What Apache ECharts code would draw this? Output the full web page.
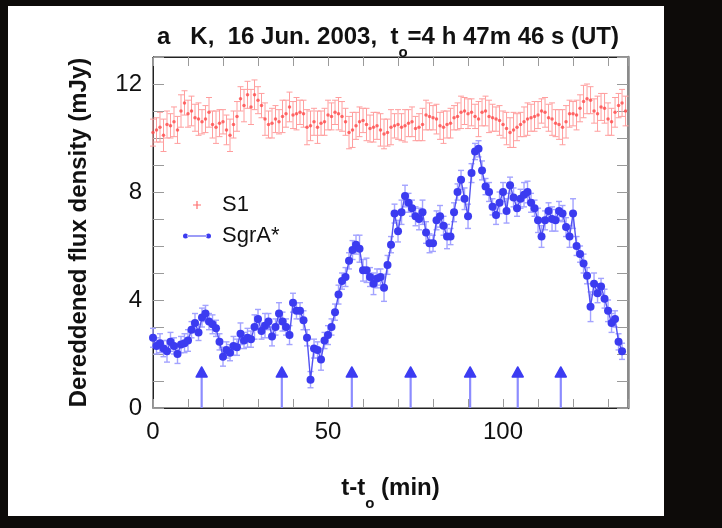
<!DOCTYPE html>
<html>
<head>
<meta charset="utf-8">
<script src="https://cdn.jsdelivr.net/npm/echarts@6/dist/echarts.min.js"></script>
<style>
  html, body { margin: 0; padding: 0; width: 722px; height: 528px; overflow: hidden; background: #0d0b09; }
  #chart { position: absolute; left: 8px; top: 6px; width: 656px; height: 510px; background: #ffffff; }
</style>
</head>
<body>
<div id="chart"></div>
<script>
// Sampling step of both light curves, minutes after t0
const SAMPLE_STEP_MIN = 1;

// SgrA* dereddened K-band flux density (mJy), one value per minute from t0
const sgrFlux = [
  2.6, 2.3, 2.4, 2.2, 2.1, 2.45, 2.3, 2.0, 2.35, 2.4,
  2.5, 2.9, 3.15, 2.8, 3.35, 3.5, 3.2, 3.1, 2.95, 2.45,
  1.9, 2.15, 2.05, 2.3, 2.25, 2.75, 2.5, 2.6, 2.55, 3.0,
  3.3, 2.85, 3.05, 3.2, 2.65, 3.0, 3.5, 3.2, 3.0, 2.7,
  3.9, 3.6, 3.6, 3.25, 2.6, 1.05, 2.2, 2.15, 1.8, 2.5,
  2.7, 3.0, 3.55, 4.2, 4.7, 4.85, 5.45, 5.85, 6.05, 5.9,
  5.1, 5.1, 4.85, 4.6, 4.8, 4.85, 4.45, 5.3, 6.05, 7.2,
  6.55, 7.25, 7.85, 7.6, 7.4, 7.1, 7.0, 7.25, 6.5, 6.1,
  6.1, 6.95, 7.1, 6.75, 6.35, 6.35, 7.25, 8.0, 8.45, 7.75,
  7.1, 8.7, 9.5, 9.6, 8.8, 8.2, 8.0, 7.45, 7.15, 7.6,
  8.0, 7.3, 8.25, 7.8, 7.4, 7.75, 7.9, 8.0, 7.6, 7.4,
  6.95, 6.35, 6.95, 7.3, 7.0, 6.95, 7.3, 7.2, 6.7, 6.35,
  7.2, 6.0, 5.7, 5.35, 4.9, 3.75, 4.6, 4.25, 4.5, 4.05,
  3.6, 3.15, 3.3, 2.45, 2.1
];
// 1-sigma uncertainties of the SgrA* points (mJy)
const sgrErr = [
  0.35, 0.3, 0.35, 0.3, 0.4, 0.35, 0.3, 0.35, 0.3, 0.35,
  0.4, 0.3, 0.35, 0.3, 0.35, 0.3, 0.3, 0.35, 0.3, 0.3,
  0.35, 0.3, 0.3, 0.35, 0.3, 0.4, 0.3, 0.35, 0.3, 0.45,
  0.35, 0.3, 0.45, 0.3, 0.35, 0.3, 0.4, 0.35, 0.3, 0.35,
  0.35, 0.3, 0.3, 0.35, 0.3, 0.3, 0.35, 0.3, 0.4, 0.3,
  0.35, 0.3, 0.3, 0.35, 0.3, 0.35, 0.3, 0.35, 0.35, 0.5,
  0.4, 0.45, 0.35, 0.4, 0.35, 0.3, 0.5, 0.35, 0.3, 0.35,
  0.4, 0.45, 0.4, 0.35, 0.3, 0.35, 0.4, 0.45, 0.4, 0.35,
  0.3, 0.35, 0.4, 0.35, 0.45, 0.3, 0.35, 0.3, 0.35, 0.4,
  0.45, 0.35, 0.3, 0.3, 0.35, 0.3, 0.35, 0.3, 0.35, 0.4,
  0.35, 0.45, 0.3, 0.35, 0.3, 0.35, 0.45, 0.4, 0.35, 0.3,
  0.45, 0.4, 0.35, 0.3, 0.45, 0.4, 0.35, 0.3, 0.35, 0.4,
  0.55, 0.35, 0.3, 0.35, 0.3, 0.55, 0.4, 0.35, 0.3, 0.35,
  0.4, 0.35, 0.3, 0.3, 0.3
];

// Comparison star S1 flux density (mJy), one value per minute from t0
const s1Flux = [
  10.2, 10.3, 10.4, 10.1, 10.5, 10.45, 10.6, 10.3, 11.0, 11.3,
  10.9, 11.0, 10.75, 10.7, 10.6, 10.7, 10.95, 10.5, 10.4, 10.55,
  10.6, 10.3, 10.1, 10.5, 10.8, 11.45, 11.2, 11.6, 11.15, 11.6,
  11.4, 11.2, 10.7, 10.5, 10.55, 10.7, 10.6, 10.8, 10.9, 11.15,
  10.85, 10.9, 10.95, 10.9, 10.4, 10.45, 10.6, 10.4, 10.55, 10.6,
  10.85, 10.8, 10.95, 10.9, 10.8, 10.6, 10.2, 10.3, 10.45, 10.6,
  10.65, 10.5, 10.35, 10.4, 10.45, 10.3, 10.15, 10.2, 10.4, 10.45,
  10.5, 10.4, 10.45, 10.55, 10.6, 10.35, 10.4, 10.5, 10.85, 10.8,
  10.75, 10.7, 10.45, 10.4, 10.5, 10.55, 10.75, 10.8, 10.95, 11.0,
  10.9, 10.95, 10.8, 10.7, 10.95, 11.0, 10.8, 10.75, 10.7, 10.65,
  10.5, 10.35, 10.2, 10.3, 10.4, 10.5, 10.6, 10.7, 10.75, 10.8,
  10.85, 11.0, 10.95, 10.75, 10.7, 10.55, 10.5, 10.4, 10.6, 10.9,
  10.9, 10.85, 11.1, 11.35, 11.45, 11.4, 11.0, 10.9, 11.15, 11.1,
  10.7, 10.6, 10.95, 11.2, 11.3, 11.0
];
// 1-sigma uncertainties of the S1 points (mJy)
const s1Err = [
  0.5, 0.45, 0.55, 0.6, 0.5, 0.45, 0.55, 0.5, 0.6, 0.45,
  0.5, 0.55, 0.5, 0.6, 0.45, 0.5, 0.55, 0.5, 0.6, 0.5,
  0.45, 0.55, 0.6, 0.5, 0.55, 0.45, 0.6, 0.5, 0.65, 0.55,
  0.5, 0.45, 0.6, 0.5, 0.55, 0.5, 0.45, 0.6, 0.5, 0.55,
  0.5, 0.6, 0.45, 0.5, 0.65, 0.55, 0.5, 0.6, 0.45, 0.5,
  0.55, 0.5, 0.45, 0.6, 0.55, 0.5, 0.6, 0.65, 0.5, 0.55,
  0.45, 0.6, 0.5, 0.55, 0.5, 0.6, 0.55, 0.5, 0.65, 0.45,
  0.55, 0.5, 0.6, 0.5, 0.55, 0.45, 0.5, 0.6, 0.55, 0.5,
  0.45, 0.55, 0.5, 0.6, 0.5, 0.55, 0.45, 0.5, 0.6, 0.5,
  0.55, 0.5, 0.45, 0.65, 0.5, 0.55, 0.6, 0.5, 0.45, 0.55,
  0.5, 0.6, 0.55, 0.65, 0.5, 0.45, 0.55, 0.6, 0.5, 0.55,
  0.5, 0.45, 0.55, 0.5, 0.6, 0.5, 0.55, 0.65, 0.6, 0.5,
  0.45, 0.55, 0.5, 0.6, 0.55, 0.5, 0.45, 0.65, 0.5, 0.55,
  0.6, 0.5, 0.55, 0.45, 0.5, 0.55
];

// Times (min after t0) of the sub-flare peaks marked with arrows
const flareTimes = [13.9, 36.8, 56.8, 73.6, 90.6, 104.2, 116.5];

// Axis ranges and ticks
const X_MIN = 0, X_MAX = 135.7, X_TICK = 10, X_LABEL_EVERY = 50;
const Y_MIN = 0, Y_MAX = 13, Y_TICK = 1, Y_LABEL_EVERY = 4;

const FONT = '"Liberation Sans", Arial, Helvetica, sans-serif';
const INK = '#111111';

const s1Points = s1Flux.map((v, i) => [i * SAMPLE_STEP_MIN, v]);
const s1Bars = s1Flux.map((v, i) => [i * SAMPLE_STEP_MIN, v - s1Err[i], v + s1Err[i]]);
const sgrPoints = sgrFlux.map((v, i) => [i * SAMPLE_STEP_MIN, v]);
const sgrBars = sgrFlux.map((v, i) => [i * SAMPLE_STEP_MIN, v - sgrErr[i], v + sgrErr[i]]);

// Vertical error bar with short caps
function errorBars(color, capHalf, width) {
  return function (params, api) {
    const x = api.value(0);
    const lo = api.coord([x, api.value(1)]);
    const hi = api.coord([x, api.value(2)]);
    const style = { stroke: color, lineWidth: width };
    return {
      type: 'group',
      children: [
        { type: 'line', shape: { x1: lo[0], y1: lo[1], x2: hi[0], y2: hi[1] }, style },
        { type: 'line', shape: { x1: lo[0] - capHalf, y1: lo[1], x2: lo[0] + capHalf, y2: lo[1] }, style },
        { type: 'line', shape: { x1: hi[0] - capHalf, y1: hi[1], x2: hi[0] + capHalf, y2: hi[1] }, style }
      ]
    };
  };
}

// Upward arrow standing on the time axis
const ARROW_TOP = 1.52;   // tip height, mJy
const HEAD_LEN = 10, HEAD_HALF = 5.5, SHAFT_W = 2.2;
function flareArrow(params, api) {
  const t = api.value(0);
  const base = api.coord([t, Y_MIN]);
  const tip = api.coord([t, ARROW_TOP]);
  const neckY = tip[1] + HEAD_LEN;
  return {
    type: 'group',
    children: [
      { type: 'rect', shape: { x: base[0] - SHAFT_W / 2, y: neckY, width: SHAFT_W, height: base[1] - neckY },
        style: { fill: '#8c8cff' } },
      { type: 'polygon', shape: { points: [[tip[0], tip[1]], [tip[0] + HEAD_HALF, neckY], [tip[0] - HEAD_HALF, neckY]] },
        style: { fill: '#3c3cf2', stroke: '#3c3cf2', lineWidth: 1.5, lineJoin: 'round' } }
    ]
  };
}

const subRich = () => ({
  m: { fontSize: 24, fontWeight: 'bold', fontFamily: FONT, color: INK, verticalAlign: 'middle' },
  s: { fontSize: 15, fontWeight: 'bold', fontFamily: FONT, color: INK, verticalAlign: 'middle', padding: [30, 0, 0, 0] }
});

const ticks = (len) => ({ show: true, inside: true, length: len, lineStyle: { color: '#9a9a9a', width: 1 } });
const frame = (color, width) => ({ show: true, onZero: false, lineStyle: { color: color, width: width } });

const chart = echarts.init(document.getElementById('chart'), null, { renderer: 'canvas' });
chart.setOption({
  animation: false,
  backgroundColor: '#ffffff',
  textStyle: { fontFamily: FONT },
  title: {
    text: '{m|a   K,  16 Jun. 2003,  t}{s|o}{m|=4 h 47m 46 s (UT)}',
    left: 149, top: 9, padding: 0,
    textStyle: { rich: subRich() }
  },
  legend: {
    orient: 'vertical',
    left: 175, top: 188,
    padding: 0,
    itemWidth: 28, itemHeight: 8, itemGap: 9,
    textStyle: { fontSize: 22, color: INK, fontFamily: FONT, padding: [0, 0, 0, 6] },
    data: [
      { name: 'S1', icon: 'path://M3.4,0H4.6V3.4H8V4.6H4.6V8H3.4V4.6H0V3.4H3.4Z' },
      { name: 'SgrA*', icon: 'path://M0,2.5a2.5,2.5 0 1,0 5,0a2.5,2.5 0 1,0 -5,0Z M23,2.5a2.5,2.5 0 1,0 5,0a2.5,2.5 0 1,0 -5,0Z M4,2H24V3H4Z' }
    ]
  },
  grid: { left: 145, top: 51, width: 475, height: 351, show: true, backgroundColor: 'transparent',
          borderColor: '#222222', borderWidth: 1 },
  xAxis: [
    {
      type: 'value', position: 'bottom', min: X_MIN, max: X_MAX, interval: X_TICK,
      axisLine: frame('#222222', 1), axisTick: ticks(9), splitLine: { show: false },
      axisLabel: { fontSize: 24, color: INK, margin: 12, fontFamily: FONT,
        formatter: v => (v % X_LABEL_EVERY === 0 ? String(v) : '') },
      name: '{m|t-t}{s|o}{m| (min)}', nameLocation: 'middle', nameGap: 58,
      nameTextStyle: { rich: subRich() }
    },
    {
      type: 'value', position: 'top', min: X_MIN, max: X_MAX, interval: X_TICK,
      axisLine: frame('#222222', 1), axisTick: ticks(9), axisLabel: { show: false }, splitLine: { show: false }
    }
  ],
  yAxis: [
    {
      type: 'value', position: 'left', min: Y_MIN, max: Y_MAX, interval: Y_TICK,
      axisLine: frame('#222222', 1), axisTick: ticks(11), splitLine: { show: false },
      axisLabel: { fontSize: 24, color: INK, margin: 11, fontFamily: FONT,
        formatter: v => (v % Y_LABEL_EVERY === 0 ? String(v) : '') },
      name: 'Dereddened flux density (mJy)', nameLocation: 'middle', nameRotate: 90, nameGap: 62,
      nameTextStyle: { fontSize: 24, fontWeight: 'bold', color: INK, fontFamily: FONT }
    },
    {
      type: 'value', position: 'right', min: Y_MIN, max: Y_MAX, interval: Y_TICK,
      axisLine: frame('#8a8a8a', 2.5), axisTick: ticks(11), axisLabel: { show: false }, splitLine: { show: false }
    }
  ],
  series: [
    {
      name: 'S1 error', type: 'custom', renderItem: errorBars('#ff9e9e', 3, 1),
      data: s1Bars, encode: { x: 0, y: [1, 2] }, z: 1, silent: true
    },
    {
      name: 'S1', type: 'scatter', data: s1Points, symbol: 'circle', symbolSize: 3.5,
      itemStyle: { color: '#ff4a4a' }, z: 2
    },
    {
      name: 'SgrA* error', type: 'custom', renderItem: errorBars('#a3a3ff', 3, 1.4),
      data: sgrBars, encode: { x: 0, y: [1, 2] }, z: 3, silent: true
    },
    {
      name: 'SgrA*', type: 'line', data: sgrPoints, symbol: 'circle', symbolSize: 8, showSymbol: true,
      lineStyle: { color: '#5252f2', width: 1.4 }, itemStyle: { color: '#3b3bf0' }, z: 4
    },
    {
      name: 'flares', type: 'custom', renderItem: flareArrow,
      data: flareTimes.map(t => [t]), encode: { x: 0 }, z: 5, silent: true
    }
  ]
});
</script>
</body>
</html>
